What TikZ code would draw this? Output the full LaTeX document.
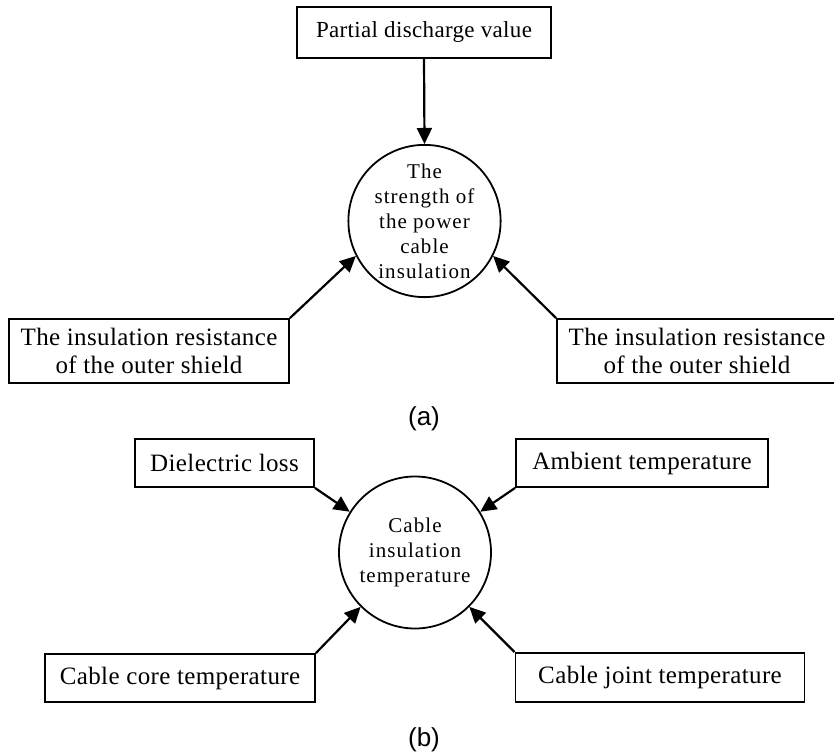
\documentclass[tikz,border=0pt]{standalone}
\usepackage{fontspec}
\setmainfont{Liberation Serif}
\newfontfamily\labelfont{Liberation Sans}
\newfontfamily\circfont[LetterSpace=5]{Liberation Serif}
\newfontfamily\boxfont[LetterSpace=1.5]{Liberation Serif}
\usetikzlibrary{arrows.meta}
\begin{document}
\begin{tikzpicture}[x=1pt,y=-1pt,
  box/.style={draw, line width=1.8pt, inner sep=0pt, align=center, font=\boxfont\fontsize{25}{28}\selectfont},
  circ/.style={draw, circle, line width=1.8pt, inner sep=0pt, align=center, font=\circfont\fontsize{21}{25}\selectfont},
  arr/.style={line width=2.2pt, -{Triangle[length=16pt,width=15pt]}},
  lab/.style={font=\labelfont\fontsize{26}{30}\selectfont}]
\useasboundingbox (0,0) rectangle (834,754);
\fill[white] (0,0) rectangle (834,754);
% (a)
\node[box, minimum width=254pt, minimum height=51pt, font=\boxfont\fontsize{23}{26}\selectfont] (pd) at (424,32.5) {Partial discharge value};
\node[circ, minimum size=147pt] (ca) at (424.5,221) {The\\strength of\\the power\\cable\\insulation};
\node[box, minimum width=280pt, minimum height=64pt] (irl) at (149,351) {The insulation resistance\\of the outer shield};
\node[box, minimum width=280pt, minimum height=64pt] (irr) at (697,351) {The insulation resistance\\of the outer shield};
\node[lab] (la) at (424,419) {(a)};
\draw[arr] (pd.south) -- (ca.north);
\draw[arr] (irl.north east) -- (ca.207);
\draw[arr] (irr.north west) -- (ca.333);
% (b)
\node[circ, minimum size=152pt] (cb) at (415,552.5) {Cable\\insulation\\temperature};
\node[box, minimum width=179pt, minimum height=48pt] (dl) at (224.5,463) {Dielectric loss};
\node[box, minimum width=252pt, minimum height=48pt] (at) at (642,463) {Ambient temperature};
\node[box, minimum width=270pt, minimum height=48pt] (cc) at (180,678) {Cable core temperature};
\node[box, minimum width=289pt, minimum height=49pt] (cj) at (660,677.5) {Cable joint temperature};
\node[lab] (lb) at (424,740) {(b)};
\draw[arr] (dl.south east) -- (cb.148);
\draw[arr] (at.south west) -- (cb.32);
\draw[arr] (cc.north east) -- (cb.225);
\draw[arr] (cj.north west) -- (cb.315);
\end{tikzpicture}
\end{document}
